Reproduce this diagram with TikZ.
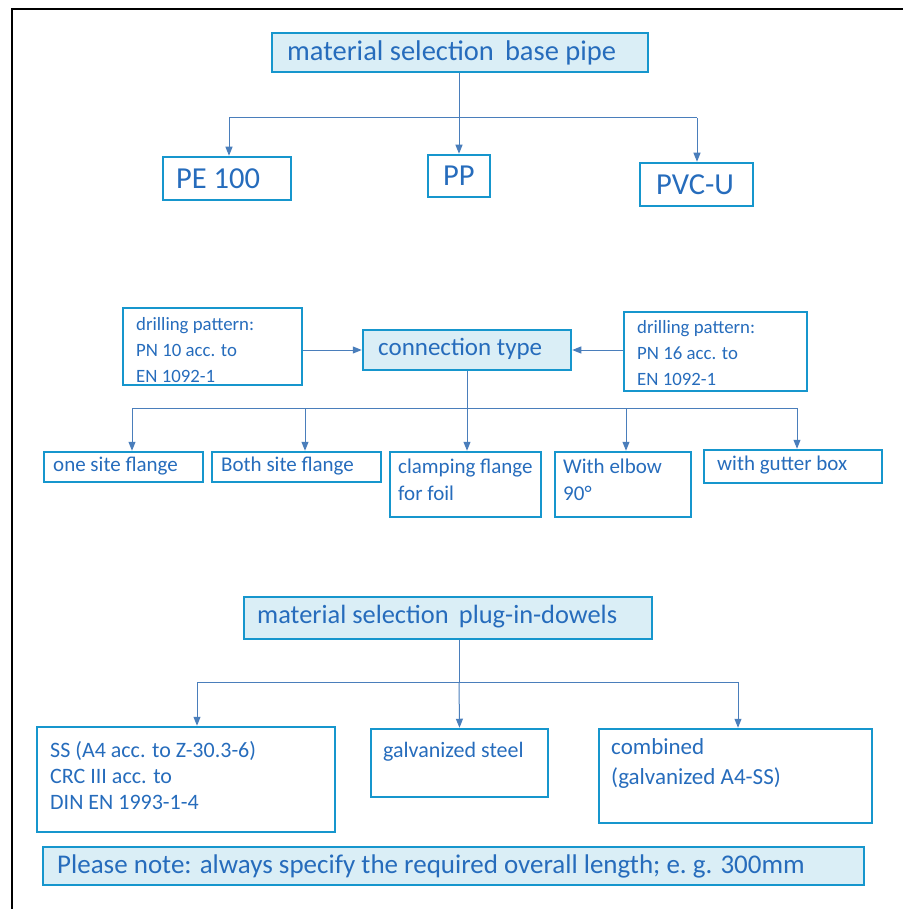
\documentclass[tikz,border=0pt]{standalone}
\usepackage{fontspec}
\setmainfont{Carlito}
\usetikzlibrary{arrows.meta}
\definecolor{bord}{RGB}{22,150,205}
\definecolor{txt}{RGB}{38,108,188}
\definecolor{arr}{RGB}{74,126,187}
\definecolor{lfill}{RGB}{218,238,246}
\begin{document}
\begin{tikzpicture}[x=1pt,y=-1pt,
  bx/.style={draw=bord,line width=2.5pt,inner sep=0pt,text=txt},
  fbx/.style={bx,fill=lfill},
  con/.style={draw=arr,line width=1pt},
  arw/.style={con,-{Triangle[length=9pt,width=7pt]}},
  lbl/.style={text=txt,anchor=west,align=left,inner sep=0pt},
  ttl/.style={lbl,font=\fontsize{28.5}{30}\selectfont},
  big/.style={lbl,font=\fontsize{30.5}{32}\selectfont},
  med/.style={lbl,font=\fontsize{25}{28}\selectfont},
  sml/.style={lbl,font=\fontsize{21}{27}\selectfont},
  tny/.style={lbl,font=\fontsize{18.8}{26}\selectfont},
  dwl/.style={lbl,font=\fontsize{22}{26}\selectfont}]
\useasboundingbox (0,0) rectangle (902,909);
\draw[line width=2pt] (12,910) -- (12,9) -- (903,9);

% top section
\node[fbx,minimum width=376pt,minimum height=39pt] (top) at (460,52.5) {};
\node[ttl] (toplbl) at (287,52.5) {material selection\, base pipe};
\node[bx,minimum width=128pt,minimum height=43pt] (pe) at (227,178.5) {};
\node[big] (pelbl) at (176,178.5) {PE 100};
\node[bx,minimum width=62pt,minimum height=42pt] (pp) at (459,176) {};
\node[big] (pplbl) at (443,176) {PP};
\node[bx,minimum width=113pt,minimum height=43pt] (pvc) at (696.5,184.5) {};
\node[big] (pvclbl) at (656,184.5) {PVC-U};
\coordinate (j1) at (459,118);
\coordinate (h1l) at (229,118);
\coordinate (h1r) at (697,118);
\draw[con] (top.south -| j1) -- (j1);
\draw[con] (h1l) -- (h1r);
\draw[arw] (j1) -- (pp.north);
\draw[arw] (h1l) -- (pe.north -| h1l);
\draw[arw] (h1r) -- (pvc.north -| h1r);

% connection section
\node[fbx,minimum width=208pt,minimum height=40pt] (ct) at (467,350) {};
\node[med] (ctlbl) at (378,349) {connection type};
\node[bx,minimum width=179pt,minimum height=77pt] (dl) at (212.5,346.5) {};
\node[tny] (dllbl) at (136,350) {drilling pattern:\\PN 10 acc. to\\EN 1092-1};
\node[bx,minimum width=183pt,minimum height=79pt] (dr) at (715.5,351.5) {};
\node[tny] (drlbl) at (637,353) {drilling pattern:\\PN 16 acc. to\\EN 1092-1};
\draw[arw] (dl.east |- ct) -- (ct.west);
\draw[arw] (dr.west |- ct) -- (ct.east);
\coordinate (j2) at (467,408);
\coordinate (h2l) at (132,408);
\coordinate (h2a) at (305,408);
\coordinate (h2b) at (626,408);
\coordinate (h2r) at (797,408);
\draw[con] (ct.south) -- (j2);
\draw[con] (h2l) -- (h2r);

\node[bx,minimum width=159pt,minimum height=30pt] (b1) at (123.5,467) {};
\node[sml] (b1lbl) at (53,466) {one site flange};
\node[bx,minimum width=169pt,minimum height=30pt] (b2) at (296.5,467) {};
\node[sml] (b2lbl) at (221,466) {Both site flange};
\node[bx,minimum width=151pt,minimum height=65pt] (b3) at (465.5,484.5) {};
\node[sml] (b3lbl) at (398,480) {clamping flange\\for foil};
\node[bx,minimum width=136pt,minimum height=65pt] (b4) at (623,484.5) {};
\node[sml] (b4lbl) at (563,480) {With elbow\\90°};
\node[bx,minimum width=178pt,minimum height=33pt] (b5) at (793,466.5) {};
\node[sml] (b5lbl) at (717,465) {with gutter box};
\draw[arw] (h2l) -- (b1.north -| h2l);
\draw[arw] (h2a) -- (b2.north -| h2a);
\draw[arw] (j2) -- (b3.north -| j2);
\draw[arw] (h2b) -- (b4.north -| h2b);
\draw[arw] (h2r) -- (b5.north -| h2r);

% dowels section
\node[fbx,minimum width=408pt,minimum height=42pt] (dw) at (448,618) {};
\node[med,font=\fontsize{26.4}{28}\selectfont] (dwlbl) at (257,617) {material selection\, plug-in-dowels};
\node[bx,minimum width=298pt,minimum height=105pt] (ss) at (186,779.5) {};
\node[dwl] (sslbl) at (50,776) {SS (A4 acc. to Z-30.3-6)\\CRC III acc. to\\DIN EN 1993-1-4};
\node[bx,minimum width=177pt,minimum height=68pt] (gs) at (459.5,763) {};
\node[dwl] (gslbl) at (383,752) {galvanized steel};
\node[bx,minimum width=273pt,minimum height=94pt] (cb) at (735.5,776) {};
\node[dwl,font=\fontsize{23}{30}\selectfont] (cblbl) at (611,763) {combined\\(galvanized A4-SS)};
\coordinate (j3) at (459,682);
\coordinate (h3l) at (197,682);
\coordinate (h3r) at (738,682);
\draw[con] (dw.south -| j3) -- (j3);
\draw[con] (h3l) -- (h3r);
\draw[arw] (h3l) -- (ss.north -| h3l);
\draw[arw] (j3) -- (gs.north);
\draw[arw] (h3r) -- (cb.north -| h3r);

\node[fbx,minimum width=821pt,minimum height=38pt] (note) at (453.5,866) {};
\node[med,font=\fontsize{27}{30}\selectfont] (notelbl) at (57,866) {Please note: always specify the required overall length; e.\ g. 300mm};
\end{tikzpicture}
\end{document}
